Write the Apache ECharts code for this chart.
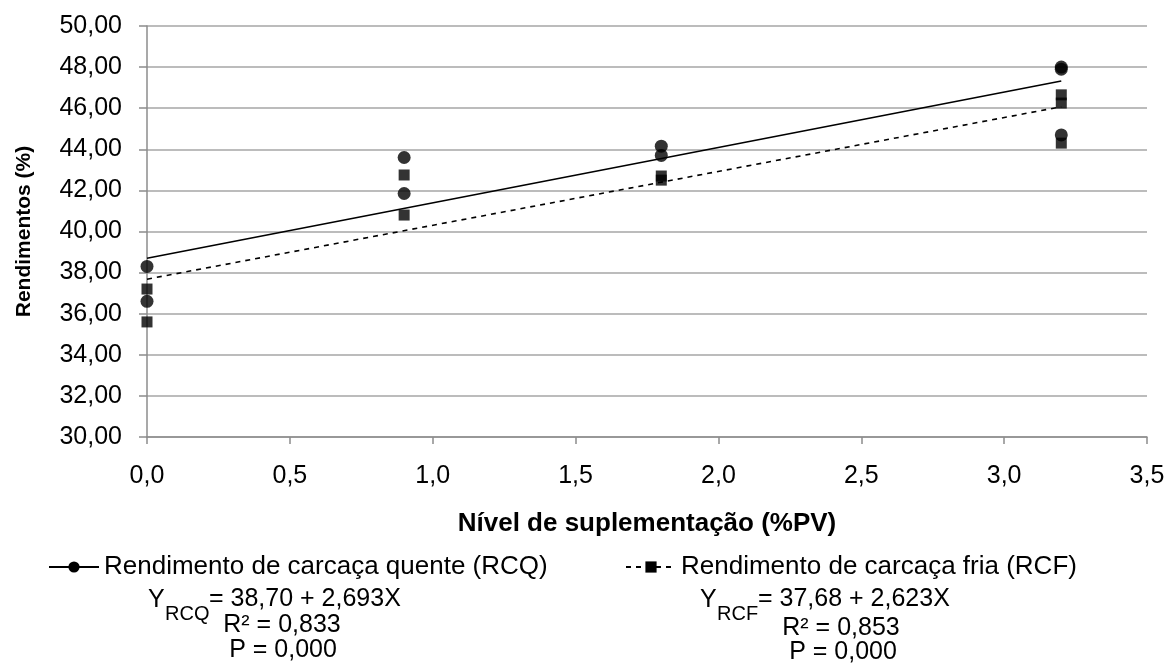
<!DOCTYPE html>
<html>
<head>
<meta charset="utf-8">
<script src="https://cdn.jsdelivr.net/npm/echarts@6/dist/echarts.min.js"></script>
<style>
  html, body { margin: 0; padding: 0; background: #fff; }
  #main { width: 1168px; height: 671px; }
</style>
</head>
<body>
<div id="main"></div>
<script>
// valores
const niveis = [0, 0.9, 1.8, 3.2]
const rcqPontos = [[0, 38.3], [0, 36.6], [0.9, 43.6], [0.9, 41.85], [1.8, 44.15], [1.8, 43.7], [3.2, 48.0], [3.2, 47.9], [3.2, 44.7]]
const rcfPontos = [[0, 37.2], [0, 35.6], [0.9, 42.75], [0.9, 40.8], [1.8, 42.7], [1.8, 42.5], [3.2, 46.65], [3.2, 46.25], [3.2, 44.3]]
// extremos das retas de regressão
const retaRCQ = [[0, 38.7], [3.2, 47.32]]
const retaRCF = [[0, 37.68], [3.2, 46.07]]

const nomeRCQ = 'Rendimento de carcaça quente (RCQ)'
const nomeRCF = 'Rendimento de carcaça fria (RCF)'

const fonte = 'Liberation Sans, Arial, sans-serif'
const virgula = (v, casas) => v.toFixed(casas).replace('.', ',')

const myChart = echarts.init(document.getElementById('main'))

const texto = (x, y, str, size, align) => ({
  type: 'text', x: x, y: y,
  style: { text: str, fontSize: size, fontFamily: fonte, fill: '#000', align: align || 'left', verticalAlign: 'middle' }
})

myChart.setOption({
  animation: false,
  grid: { left: 147, right: 21, top: 26, bottom: 234 },
  xAxis: {
    type: 'value', min: 0, max: 3.5, interval: 0.5,
    name: 'Nível de suplementação (%PV)', nameLocation: 'middle', nameGap: 74,
    nameTextStyle: { fontSize: 26, fontWeight: 'bold', fontFamily: fonte, color: '#000' },
    axisLine: { lineStyle: { color: '#8c8c8c', width: 1.5 } },
    axisTick: { show: true, length: 7, lineStyle: { color: '#8c8c8c', width: 1.5 } },
    axisLabel: { fontSize: 25, fontFamily: fonte, color: '#000', margin: 27, formatter: v => virgula(v, 1) },
    splitLine: { show: false }
  },
  yAxis: {
    type: 'value', min: 30, max: 50, interval: 2,
    name: 'Rendimentos (%)', nameLocation: 'middle', nameGap: 112,
    nameTextStyle: { fontSize: 21, fontWeight: 'bold', fontFamily: fonte, color: '#000' },
    axisLine: { show: true, lineStyle: { color: '#8c8c8c', width: 1.5 } },
    axisTick: { show: true, length: 8, lineStyle: { color: '#8c8c8c', width: 1.5 } },
    axisLabel: { fontSize: 25, fontFamily: fonte, color: '#000', margin: 25, formatter: v => virgula(v, 2) },
    splitLine: { lineStyle: { color: '#a6a6a6', width: 1.5 } }
  },
  legend: [
    {
      left: 43, top: 549, itemWidth: 50, itemHeight: 14, itemGap: 8,
      data: [nomeRCQ],
      textStyle: { fontSize: 26, fontFamily: fonte, color: '#000' }
    },
    {
      left: 620, top: 549, itemWidth: 50, itemHeight: 14, itemGap: 8,
      data: [nomeRCF],
      textStyle: { fontSize: 26, fontFamily: fonte, color: '#000' }
    }
  ],
  series: [
    {
      name: nomeRCQ, type: 'line', data: retaRCQ,
      symbol: 'circle', symbolSize: 9, showSymbol: false,
      itemStyle: { color: '#000' },
      lineStyle: { color: '#000', width: 1.6 }
    },
    {
      name: nomeRCF, type: 'line', data: retaRCF,
      symbol: 'rect', symbolSize: 8, showSymbol: false,
      itemStyle: { color: '#000' },
      lineStyle: { color: '#000', width: 1.6, type: [5, 5] }
    },
    {
      name: 'rcqPontos', type: 'scatter', data: rcqPontos,
      symbol: 'circle', symbolSize: 13, itemStyle: { color: '#000' }, z: 3
    },
    {
      name: 'rcfPontos', type: 'scatter', data: rcfPontos,
      symbol: 'rect', symbolSize: 11, itemStyle: { color: '#000' }, z: 3
    }
  ],
  graphic: [
    texto(148, 600, 'Y', 25),
    texto(165, 614, 'RCQ', 20),
    texto(209, 599, '= 38,70 + 2,693X', 25),
    texto(282, 625, 'R² = 0,833', 25, 'center'),
    texto(283, 650, 'P = 0,000', 25, 'center'),
    texto(700, 600, 'Y', 25),
    texto(717, 614, 'RCF', 20),
    texto(758, 599, '= 37,68 + 2,623X', 25),
    texto(841, 628, 'R² = 0,853', 25, 'center'),
    texto(843, 652, 'P = 0,000', 25, 'center')
  ]
})
</script>
</body>
</html>
